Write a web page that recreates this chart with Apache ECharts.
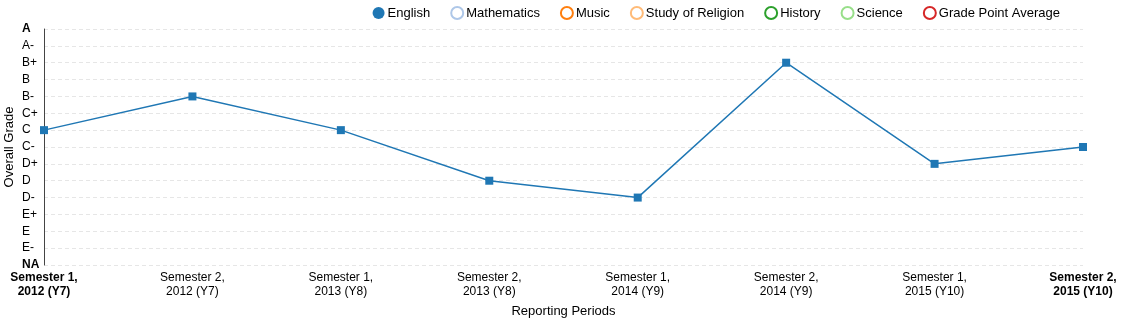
<!DOCTYPE html>
<html><head><meta charset="utf-8">
<script src="https://cdn.jsdelivr.net/npm/echarts@6/dist/echarts.min.js"></script>
<style>html,body{margin:0;padding:0;background:#fff}#c{width:1128px;height:322px}</style>
</head><body><div id="c"></div>
<script>
const periods = ["Semester 1,\n2012 (Y7)","Semester 2,\n2012 (Y7)","Semester 1,\n2013 (Y8)","Semester 2,\n2013 (Y8)","Semester 1,\n2014 (Y9)","Semester 2,\n2014 (Y9)","Semester 1,\n2015 (Y10)","Semester 2,\n2015 (Y10)"];
const grades = ["NA","E-","E","E+","D-","D","D+","C-","C","C+","B-","B","B+","A-","A"];
const englishGrades = ["C","B-","C","D","D-","B+","D+","C-"];
const seriesNames = ["English","Mathematics","Music","Study of Religion","History","Science","Grade Point Average"];
const seriesColors = ["#1f77b4","#aec7e8","#ff7f0e","#ffbb78","#2ca02c","#98df8a","#d62728"];

const englishValues = englishGrades.map(g => grades.indexOf(g));
const FONT = "Liberation Sans, Arial, sans-serif";
const chart = echarts.init(document.getElementById('c'), null, {renderer:'canvas'});
const series = seriesNames.map((n,i) => ({
  name:n, type:'line',
  data: i===0 ? englishValues : [],
  symbol:'rect', symbolSize:8,
  lineStyle:{width:1.5,color:seriesColors[i]},
  itemStyle:{color:seriesColors[i]},
  animation:false
}));
chart.setOption({
  animation:false,
  textStyle:{fontFamily:FONT},
  legend:{
    top:1, right:63, itemGap:20, itemWidth:12, itemHeight:12,
    textStyle:{fontSize:13, color:'#000', fontFamily:FONT, padding:[0,0,0,-2]},
    data: seriesNames.map((n,i)=>({
      name:n, icon:'circle',
      itemStyle: i===0 ? {color:seriesColors[i], borderColor:seriesColors[i], borderWidth:0}
                       : {color:'#fff', borderColor:seriesColors[i], borderWidth:2}
    }))
  },
  grid:{left:44,right:45,top:29,bottom:57,containLabel:false,outerBoundsMode:'none'},
  xAxis:{
    type:'category', data:periods, boundaryGap:false,
    name:'Reporting Periods', nameLocation:'middle', nameGap:40, nameMoveOverlap:false,
    nameTextStyle:{fontSize:13,color:'#000',fontFamily:FONT},
    axisLine:{show:false}, axisTick:{show:false},
    axisLabel:{
      interval:0, fontSize:12, color:'#000', margin:6, lineHeight:14, fontFamily:FONT,
      formatter:(v,i)=> (i===0||i===periods.length-1) ? '{b|'+v+'}' : v,
      rich:{b:{fontWeight:'bold',fontSize:12,color:'#000',lineHeight:14,fontFamily:FONT}}
    },
    splitLine:{show:false}
  },
  yAxis:{
    type:'value', min:0, max:grades.length-1, interval:1,
    name:'Overall Grade', nameLocation:'middle', nameGap:28, nameRotate:90, nameMoveOverlap:false,
    nameTextStyle:{fontSize:13,color:'#000',fontFamily:FONT},
    axisLine:{show:true, lineStyle:{color:'#444',width:1}},
    axisTick:{show:false},
    axisLabel:{
      fontSize:12, color:'#000', margin:22, align:'left', fontFamily:FONT,
      formatter:(v)=>{const g=grades[v]; return (v===0||v===grades.length-1)?'{b|'+g+'}':g;},
      rich:{b:{fontWeight:'bold',fontSize:12,color:'#000',fontFamily:FONT}}
    },
    splitLine:{show:true, lineStyle:{color:'#e6e6e6', type:[4,3], width:1}}
  },
  series: series
});
</script></body></html>
